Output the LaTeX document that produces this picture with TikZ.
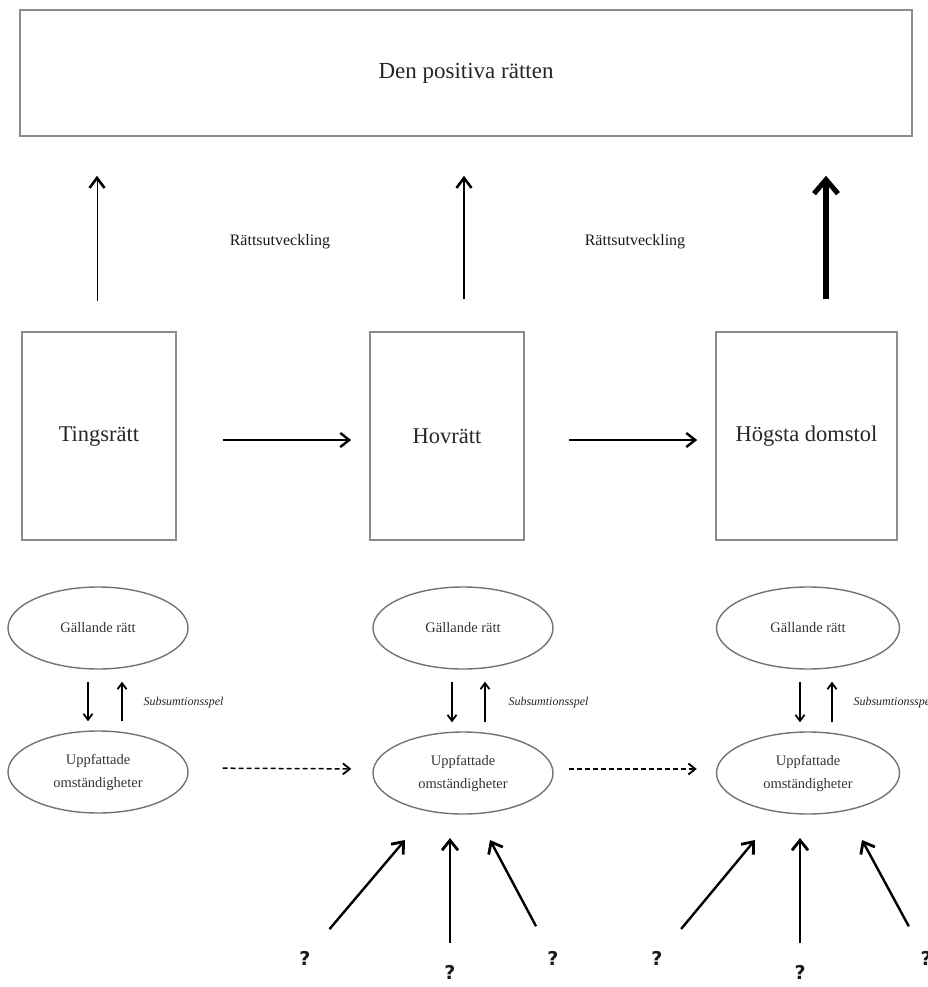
\documentclass[tikz,border=0pt]{standalone}
\usepackage{fontspec}
\setmainfont{Liberation Serif}
\newfontfamily\qfont{DejaVu Sans}
\usetikzlibrary{arrows.meta}
\usetikzlibrary{shapes.geometric}

\begin{document}
\begin{tikzpicture}[x=1pt,y=-1pt,
    court/.style={draw=black!45, line width=1.6pt, inner sep=0pt, minimum height=208pt,
      text=black!85, font=\fontsize{22.5}{26}\selectfont},
    oval/.style={ellipse, draw=black!55, line width=1.4pt, inner sep=0pt, minimum width=180pt,
      minimum height=82pt, align=center, text=black!80, font=\fontsize{14.5}{23}\selectfont},
    rise/.style={line width=#1, -{Straight Barb[length=10pt,width=15pt,line width=2.6pt]}},
    flow/.style={line width=2.4pt, -{Straight Barb[length=9pt,width=14pt,line width=2.4pt]}},
    dashflow/.style={line width=1.5pt, dash pattern=on 5pt off 3pt,
      -{Straight Barb[length=7pt,width=11pt,line width=1.8pt]}},
    subflow/.style={line width=1.5pt, -{Straight Barb[length=6pt,width=9pt,line width=1.8pt]}},
    inflow/.style={line width=2.4pt, -{Straight Barb[length=10pt,width=16pt,line width=2.8pt]}},
    qmark/.style={text=black!90, font=\qfont\bfseries\fontsize{19}{21}\selectfont}]
  \useasboundingbox (0,0) rectangle (928,987);

  % top box
  \node[draw=black!45, line width=1.6pt, minimum width=892pt, minimum height=126pt, inner sep=0pt,
    text=black!85, font=\fontsize{23}{27}\selectfont] (positiv) at (466,73) {Den positiva rätten};

  % courts
  \node[court, minimum width=154pt] (ting) at (99,436) {Tingsrätt};
  \node[court, minimum width=154pt] (hov) at (447,436) {Hovrätt};
  \node[court, minimum width=181pt] (hd) at (806.5,436) {Högsta domstol};
  \draw[flow, shorten <=46pt, shorten >=18pt] ([yshift=-4pt]ting.east) -- ([yshift=-4pt]hov.west);
  \draw[flow, shorten <=44pt, shorten >=18pt] ([yshift=-4pt]hov.east) -- ([yshift=-4pt]hd.west);

  % development of law
  \draw[rise=0.9pt, shorten <=30pt, shorten >=39pt] ([xshift=-2pt]ting.north) -- ([xshift=-2pt]ting.north |- positiv.south);
  \draw[rise=2.4pt, shorten <=32pt, shorten >=39pt] ([xshift=17pt]hov.north) -- ([xshift=17pt]hov.north |- positiv.south);
  \draw[line width=6pt, -{Straight Barb[length=14pt,width=24pt,line width=5pt]}, shorten <=32pt, shorten >=39pt]
    ([xshift=19.5pt]hd.north) -- ([xshift=19.5pt]hd.north |- positiv.south);
  \node[font=\fontsize{16}{19}\selectfont, text=black!90] (utv1) at (280,242) {Rättsutveckling};
  \node[font=\fontsize{16}{19}\selectfont, text=black!90] (utv2) at (635,242) {Rättsutveckling};

  % applicable law and perceived circumstances
  \node[oval] (gal1) at (98,628) {Gällande rätt}; \node[oval] (upp1) at (98,772) {Uppfattade\\omständigheter};
  \node[oval] (gal2) at (463,628) {Gällande rätt}; \node[oval] (upp2) at (463,773) {Uppfattade\\omständigheter};
  \node[oval, minimum width=183pt] (gal3) at (808,628) {Gällande rätt};
  \node[oval, minimum width=183pt] (upp3) at (808,773) {Uppfattade\\omständigheter};

  % subsumption
  \draw[subflow, shorten <=12pt, shorten >=9pt] ([xshift=-10pt]gal1.south) -- ([xshift=-10pt]upp1.north);
  \draw[subflow, shorten <=9pt, shorten >=12pt] ([xshift=24pt]upp1.north) -- ([xshift=24pt]gal1.south);
  \draw[subflow, shorten <=12pt, shorten >=9pt] ([xshift=-11pt]gal2.south) -- ([xshift=-11pt]upp2.north);
  \draw[subflow, shorten <=9pt, shorten >=12pt] ([xshift=22pt]upp2.north) -- ([xshift=22pt]gal2.south);
  \draw[subflow, shorten <=12pt, shorten >=9pt] ([xshift=-8pt]gal3.south) -- ([xshift=-8pt]upp3.north);
  \draw[subflow, shorten <=9pt, shorten >=12pt] ([xshift=24pt]upp3.north) -- ([xshift=24pt]gal3.south);
  \node[anchor=west, font=\itshape\fontsize{12}{14}\selectfont, text=black!85] (sub1) at (140,703) {Subsumtionsspel};
  \node[anchor=west, font=\itshape\fontsize{12}{14}\selectfont, text=black!85] (sub2) at (505,703) {Subsumtionsspel};
  \node[anchor=west, font=\itshape\fontsize{12}{14}\selectfont, text=black!85] (sub3) at (850,703) {Subsumtionsspel};

  \draw[dashflow, shorten <=34pt, shorten >=21pt] ([yshift=4pt]upp1.east) -- ([yshift=4pt]upp2.west);
  \draw[dashflow, shorten <=15pt, shorten >=19pt] ([yshift=4pt]upp2.east) -- ([yshift=4pt]upp3.west);

  % unknown influences
  \coordinate (t1) at (405,840); \coordinate (t2) at (450,838); \coordinate (t3) at (490,840);
  \coordinate (t4) at (755,840); \coordinate (t5) at (800,838); \coordinate (t6) at (862,840);
  \node[qmark] (q1) at (305,958) {?}; \node[qmark] (q2) at (450,972) {?}; \node[qmark] (q3) at (553,958) {?};
  \node[qmark] (q4) at (657,958) {?}; \node[qmark] (q5) at (800,972) {?}; \node[qmark] (q6) at (926,958) {?};
  \draw[inflow, shorten <=24pt] (q1) -- (t1); \draw[inflow, shorten <=18pt] (q2) -- (t2);
  \draw[inflow, shorten <=24pt] (q3) -- (t3);
  \draw[inflow, shorten <=24pt] (q4) -- (t4); \draw[inflow, shorten <=18pt] (q5) -- (t5);
  \draw[inflow, shorten <=24pt] (q6) -- (t6);
\end{tikzpicture}
\end{document}
